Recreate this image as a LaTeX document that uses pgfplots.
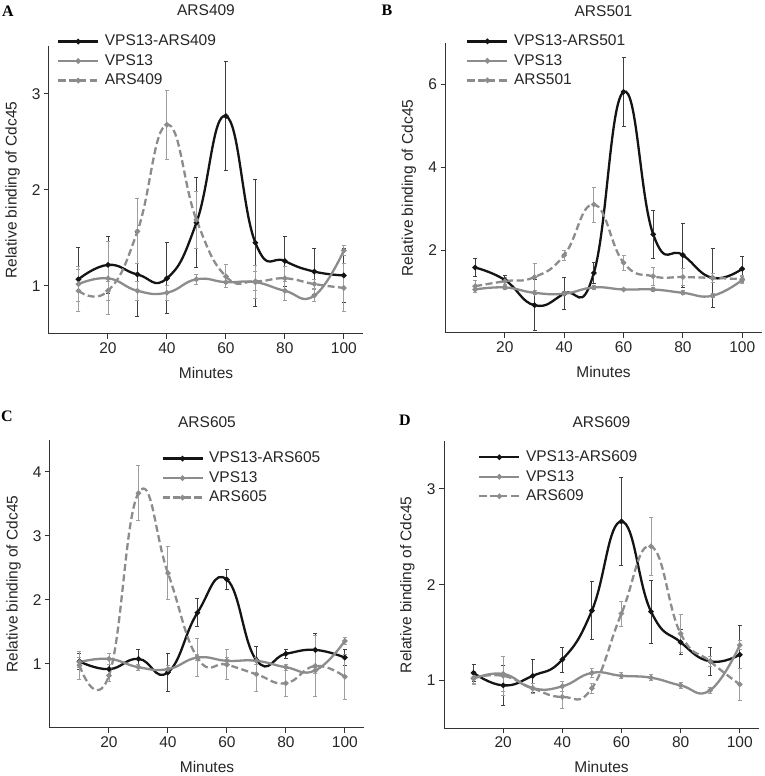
\documentclass[border=0pt]{standalone}
\usepackage{pgfplots}
\pgfplotsset{compat=1.18}
\usepackage{fontspec}
\setmainfont{Liberation Sans}
\newfontfamily\letterfont{Liberation Serif}
\newcommand{\fs}{\fontsize{15.5}{18}\selectfont}
\definecolor{lg}{gray}{0.55}
\definecolor{eg}{gray}{0.62}
\pgfplotsset{
  panel/.style={
    scale only axis, axis lines=left, xmin=0, xmax=106.5,
    xtick={20,40,60,80,100},
    axis line style={line width=1pt, color=black!80, -},
    tick style={line width=1pt, color=black!80},
    tick align=outside, major tick length=5pt,
    tick label style={font=\fs, color=black!85},
    /pgf/number format/assume math mode=true,
    xlabel=Minutes, ylabel={Relative binding of Cdc45},
    every axis x label/.style={at={(axis description cs:0.5,-0.135)},anchor=center,font=\fs,color=black!85},
    every axis y label/.style={at={(axis description cs:-0.116,0.5)},rotate=90,anchor=center,font=\fs,color=black!85},
    every axis title/.style={font=\fs,color=black!85,anchor=center},
    legend cell align=left,
    legend style={draw=none, fill=none, font=\fs, row sep=0pt, inner sep=0pt,
      nodes={inner sep=1.5pt, text height=12.5pt, text depth=4pt, text=black!85}, anchor=north west},
    clip=false,
  },
  limg/.style={legend image code/.code={\draw[mark repeat=2,mark phase=2,##1] plot coordinates {(0pt,0pt) (20pt,0pt) (40pt,0pt)}; \path (44pt,0pt);}},
  blk/.style={color=black!92, line width=2.3pt, mark=*, mark size=1.4pt, smooth, tension=0.8, limg,
    error bars/.cd, y dir=both, y explicit,
    error bar style={line width=0.9pt, color=black!75, solid},
    error mark options={rotate=90, mark size=2pt, line width=0.9pt, color=black!75}},
  gry/.style={color=lg, line width=2.3pt, mark=*, mark size=1.4pt, smooth, tension=0.8, limg,
    error bars/.cd, y dir=both, y explicit,
    error bar style={line width=0.9pt, color=eg, solid},
    error mark options={rotate=90, mark size=2pt, line width=0.9pt, color=eg}},
  dsh/.style={color=lg, line width=2.3pt, mark=*, mark size=1.4pt, smooth, tension=0.8,
    dash pattern=on 7pt off 3.5pt, mark options={solid}, limg,
    error bars/.cd, y dir=both, y explicit,
    error bar style={line width=0.9pt, color=eg, solid},
    error mark options={rotate=90, mark size=2pt, line width=0.9pt, color=eg}},
}
\begin{document}
\begin{tikzpicture}[x=1pt,y=1pt]
\useasboundingbox (0,0) rectangle (765,776);
% ---------------- A
\begin{axis}[panel, at={(49pt,442pt)}, anchor=south west, width=314pt, height=288pt,
  ymin=0.5, ymax=3.5, ytick={1,2,3},
  title={ARS409}, title style={at={(axis description cs:0.5,1.125)}},
  legend style={at={(axis description cs:0.025,1.05)}}]
\addplot[blk] table[x=x,y=y,y error=e] {
x y e
10 1.07 0.33
20 1.22 0.30
30 1.12 0.44
40 1.08 0.37
50 1.66 0.47
60 2.77 0.57
70 1.45 0.66
80 1.26 0.26
90 1.15 0.24
100 1.11 0.28
};
\addlegendentry{VPS13-ARS409}
\addplot[gry] table[x=x,y=y,y error=e] {
x y e
10 1.02 0.18
20 1.08 0.38
30 0.95 0.10
40 0.93 0.08
50 1.07 0.05
60 1.04 0.06
70 1.04 0.17
80 0.95 0.10
90 0.90 0.06
100 1.37 0.05
};
\addlegendentry{VPS13}
\addplot[dsh] table[x=x,y=y,y error=e] {
x y e
10 0.95 0.22
20 0.95 0.10
30 1.57 0.34
40 2.68 0.36
50 1.69 0.30
60 1.10 0.12
70 1.05 0.10
80 1.08 0.12
90 1.02 0.05
100 0.98 0.25
};
\addlegendentry{ARS409}
\end{axis}
% ---------------- B
\begin{axis}[panel, at={(445.5pt,443pt)}, anchor=south west, width=316pt, height=290pt,
  ymin=0, ymax=7, ytick={2,4,6},
  title={ARS501}, title style={at={(axis description cs:0.5,1.11)}},
  legend style={at={(axis description cs:0.065,1.04)}}]
\addplot[blk] table[x=x,y=y,y error=e] {
x y e
10 1.58 0.22
20 1.28 0.10
30 0.67 0.62
40 0.95 0.38
50 1.45 0.25
60 5.82 0.84
70 2.38 0.58
80 1.88 0.77
90 1.33 0.72
100 1.55 0.30
};
\addlegendentry{VPS13-ARS501}
\addplot[gry] table[x=x,y=y,y error=e] {
x y e
10 1.05 0.08
20 1.10 0.05
30 0.97 0.05
40 0.95 0.05
50 1.10 0.05
60 1.05 0.03
70 1.05 0.05
80 0.97 0.05
90 0.90 0.05
100 1.28 0.08
};
\addlegendentry{VPS13}
\addplot[dsh] table[x=x,y=y,y error=e] {
x y e
10 1.13 0.15
20 1.25 0.08
30 1.35 0.33
40 1.88 0.12
50 3.10 0.42
60 1.70 0.18
70 1.37 0.22
80 1.35 0.20
90 1.33 0.10
100 1.30 0.08
};
\addlegendentry{ARS501}
\end{axis}
% ---------------- C
\begin{axis}[panel, at={(50pt,48pt)}, anchor=south west, width=314pt, height=288pt,
  ymin=0, ymax=4.5, ytick={1,2,3,4},
  title={ARS605}, title style={at={(axis description cs:0.5,1.0625)}},
  legend style={at={(axis description cs:0.354,0.97)}}]
\addplot[blk] table[x=x,y=y,y error=e] {
x y e
10 1.04 0.12
20 0.92 0.08
30 1.08 0.14
40 0.87 0.30
50 1.80 0.22
60 2.32 0.15
70 1.06 0.22
80 1.16 0.07
90 1.22 0.25
100 1.10 0.12
};
\addlegendentry{VPS13-ARS605}
\addplot[gry] table[x=x,y=y,y error=e] {
x y e
10 1.03 0.08
20 1.08 0.08
30 0.95 0.05
40 0.92 0.05
50 1.10 0.05
60 1.05 0.05
70 1.05 0.05
80 0.95 0.05
90 0.90 0.05
100 1.36 0.05
};
\addlegendentry{VPS13}
\addplot[dsh] table[x=x,y=y,y error=e] {
x y e
10 0.98 0.22
20 0.82 0.10
30 3.67 0.43
40 2.42 0.41
50 1.10 0.30
60 0.99 0.23
70 0.84 0.27
80 0.70 0.20
90 0.97 0.47
100 0.80 0.35
};
\addlegendentry{ARS605}
\end{axis}
% ---------------- D
\begin{axis}[panel, at={(444pt,47.5pt)}, anchor=south west, width=315pt, height=287.5pt,
  ymin=0.5, ymax=3.5, ytick={1,2,3},
  title={ARS609}, title style={at={(axis description cs:0.5,1.066)}},
  legend style={at={(axis description cs:0.108,0.978)}}]
\addplot[blk] table[x=x,y=y,y error=e] {
x y e
10 1.08 0.09
20 0.95 0.21
30 1.05 0.17
40 1.22 0.13
50 1.73 0.30
60 2.66 0.46
70 1.72 0.33
80 1.40 0.13
90 1.20 0.15
100 1.27 0.31
};
\addlegendentry{VPS13-ARS609}
\addplot[gry] table[x=x,y=y,y error=e] {
x y e
10 1.02 0.05
20 1.07 0.18
30 0.92 0.05
40 0.94 0.05
50 1.08 0.05
60 1.05 0.03
70 1.03 0.03
80 0.95 0.03
90 0.90 0.03
100 1.37 0.05
};
\addlegendentry{VPS13}
\addplot[dsh] table[x=x,y=y,y error=e] {
x y e
10 1.03 0.07
20 1.05 0.20
30 0.92 0.05
40 0.83 0.12
50 0.92 0.05
60 1.70 0.13
70 2.40 0.30
80 1.49 0.20
90 1.20 0.05
100 0.96 0.17
};
\addlegendentry{ARS609}
\end{axis}
% panel letters
\node[font=\letterfont\bfseries\fontsize{16}{16}\selectfont] at (8,765) {A};
\node[font=\letterfont\bfseries\fontsize{16}{16}\selectfont] at (387,766) {B};
\node[font=\letterfont\bfseries\fontsize{16}{16}\selectfont] at (7,360) {C};
\node[font=\letterfont\bfseries\fontsize{16}{16}\selectfont] at (405,356) {D};
\end{tikzpicture}
\end{document}
